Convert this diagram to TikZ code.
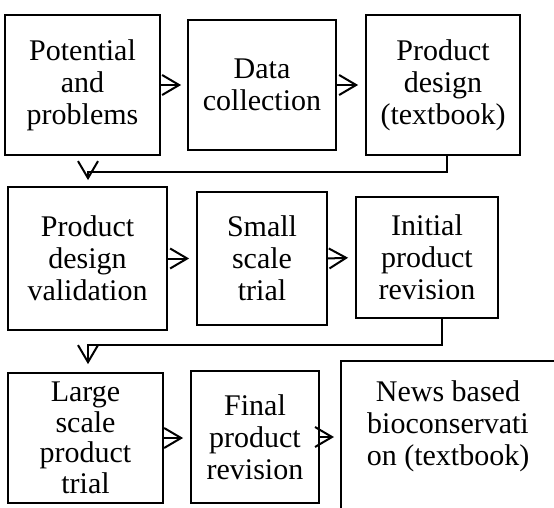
\documentclass[tikz,border=0pt]{standalone}
\usepackage{fontspec}
\setmainfont{Liberation Serif}
\usetikzlibrary{arrows.meta}
\begin{document}
\begin{tikzpicture}[x=1pt,y=-1pt,
  box/.style={draw, line width=1.8pt, align=center, inner sep=0pt,
    font=\fontsize{30}{32}\selectfont},
  boxline/.style={line width=1.8pt},
  arr/.style={line width=2pt,
    -{Straight Barb[length=17pt,width=20pt,line width=2pt]}},
]
\useasboundingbox[fill=white] (0,0) rectangle (554,508);
% row 1
\node[box, minimum width=155pt, minimum height=140pt] (n1) at (82.5,85) {Potential\\and\\problems};
\node[box, minimum width=148pt, minimum height=130pt] (n2) at (262,85) {Data\\collection};
\node[box, minimum width=154pt, minimum height=140pt] (n3) at (443,85) {Product\\design\\(textbook)};
% row 2
\node[box, minimum width=159pt, minimum height=143pt] (n4) at (87.5,258.5) {Product\\design\\validation};
\node[box, minimum width=130pt, minimum height=133pt] (n5) at (262,258.5) {Small\\scale\\trial};
\node[box, minimum width=142pt, minimum height=121pt] (n6) at (427,257.5) {Initial\\product\\revision};
% row 3
\node[box, minimum width=155pt, minimum height=130pt, font=\fontsize{30}{30.5}\selectfont] (n7) at (85.5,438) {Large\\scale\\product\\trial};
\node[box, minimum width=128pt, minimum height=132pt] (n8) at (255,437) {Final\\product\\revision};
\node[box, draw=none] (n9) at (448,426) {News based\\bioconservati\\on (textbook)};
\draw[boxline] (341,530) |- (580,361);
\coordinate (b9) at (341,437);
% arrows
\draw[arr, shorten >=6pt] (n1.east) -- (n2.west);
\draw[arr, shorten >=7pt] (n2.east) -- (n3.west);
\draw[arr, shorten >=7pt] (n4.east) -- (n5.west);
\draw[arr, shorten >=7pt] (n5.east) -- (n6.west);
\draw[arr, shorten >=7pt] (n7.east) -- (n7.east -| n8.west);
\draw[arr, shorten >=7pt] (n8.east) -- (n8.east -| b9);
% connectors
\coordinate (k1) at (88,172);
\coordinate (k2) at (88,345);
\draw[arr, shorten >=6pt] ([xshift=4pt]n3.south) |- (k1) -- (k1 |- n4.north);
\draw[arr, shorten >=8pt] ([xshift=15pt]n6.south) |- (k2) -- (k2 |- n7.north);
\end{tikzpicture}
\end{document}
